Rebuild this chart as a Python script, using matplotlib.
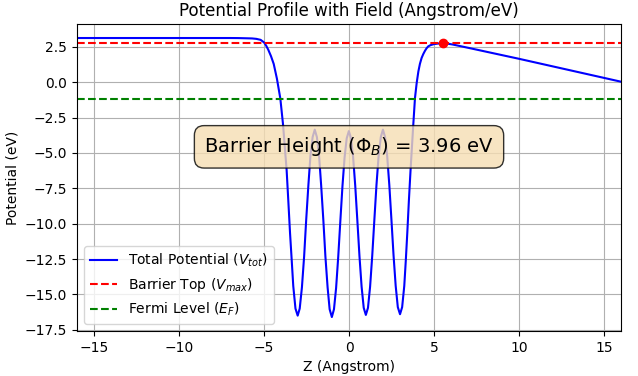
import matplotlib
matplotlib.use("Agg")
import matplotlib.pyplot as plt

# Position along z (Angstrom) and total potential (eV)
z = [-16, -12, -8, -7, -6.5, -6.0, -5.7, -5.45, -5.2, -5.0, -4.87, -4.75, -4.59, -4.43,
     -4.24, -4.04, -3.88, -3.75, -3.67, -3.57, -3.47, -3.37, -3.28, -3.15, -3.02,
     -2.90, -2.77, -2.64, -2.52, -2.39, -2.27, -2.14, -2.015, -1.89, -1.76, -1.64, -1.51,
     -1.39, -1.26, -1.14, -1.01,
     -0.885, -0.76, -0.635, -0.51, -0.385, -0.26, -0.135, -0.01, 0.115, 0.24, 0.365, 0.49,
     0.615, 0.74, 0.865, 0.99,
     1.115, 1.24, 1.365, 1.49, 1.615, 1.74, 1.87, 1.995, 2.12, 2.245, 2.37, 2.495, 2.62,
     2.745, 2.87, 3.0,
     3.125, 3.25, 3.34, 3.43, 3.52, 3.62, 3.70, 3.78, 3.88, 3.98, 4.08, 4.17, 4.27, 4.37,
     4.47, 4.56, 4.66, 4.8, 5.0, 5.25, 5.55, 5.8, 6.1, 7, 8, 9, 10, 11, 12, 13, 14, 15, 16]
v_tot = [3.13, 3.13, 3.13, 3.13, 3.125, 3.11, 3.10, 3.07, 3.0, 2.82, 2.58, 2.3, 1.85, 1.3,
         0.25, -1.15, -3.0, -5.0, -6.2, -8.4, -10.65, -12.6, -14.4, -16.0, -16.5,
         -16.0, -14.5, -12.3, -9.75, -7.27, -5.22, -3.87, -3.35, -3.87, -5.22, -7.27, -9.75,
         -12.3, -14.5, -16.05, -16.6,
         -16.05, -14.55, -12.35, -9.8, -7.33, -5.3, -3.96, -3.45, -3.95, -5.28, -7.3, -9.77,
         -12.3, -14.45, -15.95, -16.45,
         -15.95, -14.45, -12.28, -9.74, -7.26, -5.22, -3.87, -3.35, -3.87, -5.22, -7.26, -9.72,
         -12.25, -14.4, -15.9, -16.4,
         -15.9, -14.4, -12.6, -10.6, -8.4, -6.2, -4.6, -3.0, -1.11, -0.05, 0.77, 1.3, 1.72, 2.0,
         2.23, 2.4, 2.54, 2.63, 2.7, 2.74, 2.75, 2.73, 2.67, 2.44, 2.18, 1.92, 1.66, 1.39,
         1.12, 0.85, 0.58, 0.31, 0.04]

v_max = 2.75
z_max = 5.55
e_fermi = -1.21
barrier = 3.96

fig = plt.figure(figsize=(6.38, 3.76), dpi=100)
ax = fig.add_axes([0.1207, 0.1197, 0.8527, 0.8163])

ax.plot(z, v_tot, color='blue', lw=1.5, label='Total Potential ($V_{tot}$)')
ax.axhline(v_max, color='red', ls='--', lw=1.5, label='Barrier Top ($V_{max}$)')
ax.axhline(e_fermi, color='green', ls='--', lw=1.5, label='Fermi Level ($E_F$)')
ax.plot([z_max], [v_max], 'ro', zorder=5)

ax.text(0.5, 0.6, f'Barrier Height ($\\Phi_B$) = {barrier:.2f} eV', transform=ax.transAxes,
        ha='center', va='center', fontsize=14, zorder=6,
        bbox=dict(boxstyle='round,pad=0.5', facecolor='wheat', alpha=0.8))

ax.set_xlim(-16, 16)
ax.set_title('Potential Profile with Field (Angstrom/eV)')
ax.set_xlabel('Z (Angstrom)')
ax.set_ylabel('Potential (eV)')
ax.grid(True)
ax.legend(loc='lower left')

fig.savefig('out.png', dpi=100)
